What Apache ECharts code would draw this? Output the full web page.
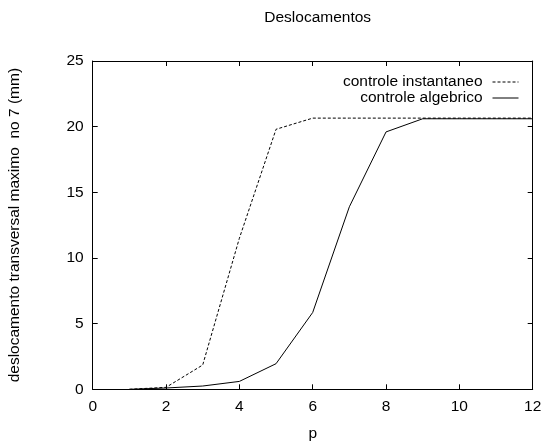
<!DOCTYPE html>
<html>
<head>
<meta charset="utf-8">
<script src="https://cdn.jsdelivr.net/npm/echarts@6/dist/echarts.min.js"></script>
<style>
  html, body { margin: 0; padding: 0; background: #fff; }
  #chart { width: 543px; height: 447px; }
</style>
</head>
<body>
<div id="chart"></div>
<script>
// data
var pValues = [1, 2, 3, 4, 5, 6, 7, 8, 9, 10, 11, 12];
var instantaneo = [0, 0.15, 1.85, 11.5, 19.8, 20.65, 20.65, 20.65, 20.65, 20.65, 20.65, 20.65];
var algebrico = [0, 0.1, 0.25, 0.6, 1.95, 5.85, 13.9, 19.6, 20.6, 20.6, 20.6, 20.6];
var xTicks = [0, 2, 4, 6, 8, 10, 12];
var yTicks = [0, 5, 10, 15, 20, 25];

var font = 'Liberation Sans';
var fs = 15.5;

function pairs(xs, ys) {
  return xs.map(function (x, i) { return [x, ys[i]]; });
}

// one axis, fresh objects each time (gnuplot style box with inward ticks)
function makeAxis(pos, ticks, showLabels, extra) {
  var ax = {
    type: 'value',
    position: pos,
    min: ticks[0],
    max: ticks[ticks.length - 1],
    interval: ticks[1] - ticks[0],
    axisLine: {show: true, onZero: false, lineStyle: {color: '#000', width: 1}},
    axisTick: {show: true, inside: true, length: 5, lineStyle: {color: '#000', width: 1}},
    axisLabel: {show: showLabels, fontFamily: font, fontSize: fs, color: '#000', margin: 9},
    splitLine: {show: false}
  };
  for (var k in extra) ax[k] = extra[k];
  return ax;
}

var myChart = echarts.init(document.getElementById('chart'), null, {renderer: 'canvas'});

var option = {
  backgroundColor: '#fff',
  animation: false,
  textStyle: {fontFamily: font, color: '#000'},
  title: {
    text: 'Deslocamentos',
    left: 312.7,
    textAlign: 'center',
    top: 5,
    textStyle: {fontFamily: font, fontSize: fs, fontWeight: 'normal', color: '#000'}
  },
  legend: {
    orient: 'vertical',
    align: 'right',
    right: 24,
    top: 74,
    padding: 0,
    itemWidth: 26,
    itemHeight: 10,
    itemGap: 0,
    itemStyle: {opacity: 0},
    lineStyle: {width: 1},
    textStyle: {fontFamily: font, fontSize: fs, lineHeight: 15, color: '#000', padding: [0, 5, 0, 0]},
    data: ['controle instantaneo', 'controle algebrico']
  },
  grid: {left: 92.7, right: 10.3, top: 61, bottom: 57.7, containLabel: false, outerBoundsMode: 'none'},
  xAxis: [
    makeAxis('bottom', xTicks, true, {
      name: 'p', nameLocation: 'middle', nameGap: 36,
      nameTextStyle: {fontFamily: font, fontSize: fs, color: '#000'}
    }),
    makeAxis('top', xTicks, false, {})
  ],
  yAxis: [
    makeAxis('left', yTicks, true, {
      name: 'deslocamento transversal maximo  no 7 (mm)', nameLocation: 'middle', nameGap: 70,
      nameTextStyle: {fontFamily: font, fontSize: fs, color: '#000'}
    }),
    makeAxis('right', yTicks, false, {})
  ],
  series: [{
    name: 'controle instantaneo',
    type: 'line',
    data: pairs(pValues, instantaneo),
    showSymbol: false,
    symbol: 'none',
    lineStyle: {color: '#000', width: 1, type: [3, 2]},
    itemStyle: {color: '#000'}
  }, {
    name: 'controle algebrico',
    type: 'line',
    data: pairs(pValues, algebrico),
    showSymbol: false,
    symbol: 'none',
    lineStyle: {color: '#000', width: 1, type: 'solid'},
    itemStyle: {color: '#000'}
  }]
};

myChart.setOption(option);
</script>
</body>
</html>
